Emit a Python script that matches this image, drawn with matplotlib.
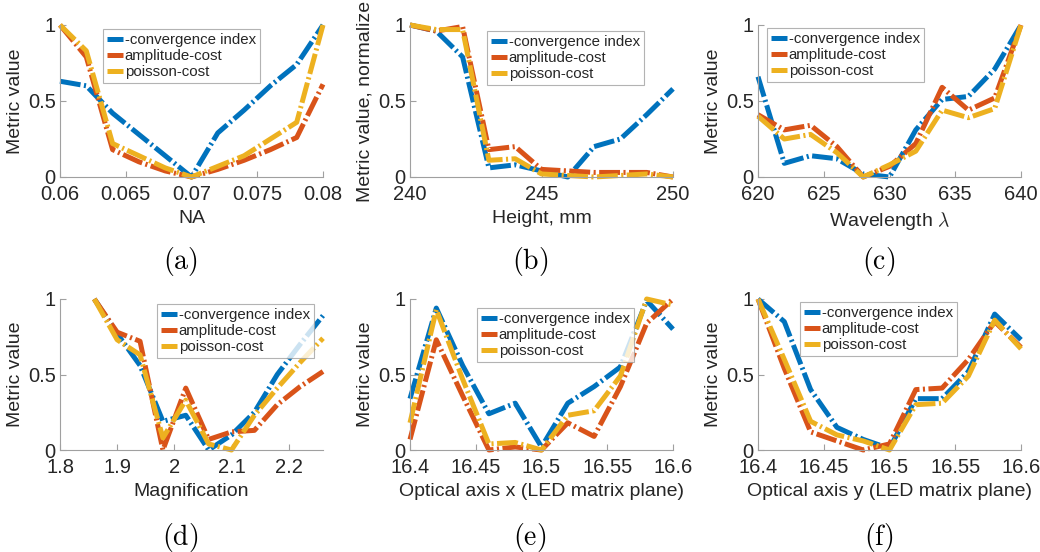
import matplotlib
matplotlib.use('Agg')
import matplotlib.pyplot as plt

plt.rcParams['font.family'] = ['Liberation Sans', 'DejaVu Sans']
plt.rcParams['mathtext.fontset'] = 'cm'
plt.rcParams['lines.scale_dashes'] = False

labels = ['-convergence index', 'amplitude-cost', 'poisson-cost']
colors = ['#0072BD', '#D95319', '#EDB120']

# (a) NA
na_x = [0.060, 0.062, 0.064, 0.066, 0.068, 0.070, 0.072, 0.074, 0.076, 0.078, 0.080]
na_conv = [0.63, 0.60, 0.42, 0.28, 0.14, 0.0, 0.29, 0.44, 0.60, 0.74, 1.0]
na_amp = [1.0, 0.79, 0.18, 0.10, 0.04, 0.0, 0.05, 0.11, 0.18, 0.26, 0.61]
na_poi = [1.0, 0.83, 0.22, 0.14, 0.06, 0.0, 0.07, 0.14, 0.25, 0.36, 1.0]

# (b) Height
h_x = [240, 241, 242, 243, 244, 245, 246, 247, 248, 249, 250]
h_conv = [1.0, 0.96, 0.79, 0.06, 0.08, 0.04, 0.0, 0.20, 0.25, 0.41, 0.58]
h_amp = [1.0, 0.96, 0.99, 0.18, 0.20, 0.05, 0.04, 0.03, 0.03, 0.03, 0.0]
h_poi = [1.0, 0.97, 0.97, 0.11, 0.12, 0.02, 0.01, 0.0, 0.01, 0.02, 0.0]

# (c) Wavelength
w_x = [620, 622, 624, 626, 628, 630, 632, 634, 636, 638, 640]
w_conv = [0.66, 0.09, 0.14, 0.12, 0.02, 0.0, 0.31, 0.51, 0.53, 0.71, 1.0]
w_amp = [0.41, 0.31, 0.34, 0.20, 0.0, 0.07, 0.22, 0.59, 0.44, 0.52, 1.0]
w_poi = [0.40, 0.25, 0.28, 0.16, 0.0, 0.08, 0.17, 0.44, 0.39, 0.45, 1.0]

# (d) Magnification
m_x = [1.86, 1.90, 1.94, 1.98, 2.02, 2.06, 2.10, 2.14, 2.18, 2.22, 2.26]
m_conv = [1.0, 0.77, 0.56, 0.19, 0.23, 0.0, 0.10, 0.25, 0.50, 0.70, 0.89]
m_amp = [1.0, 0.78, 0.72, 0.0, 0.41, 0.07, 0.12, 0.13, 0.30, 0.42, 0.52]
m_poi = [1.0, 0.73, 0.63, 0.08, 0.33, 0.04, 0.0, 0.23, 0.41, 0.58, 0.74]

# (e) Optical axis x
ox_x = [16.40, 16.42, 16.44, 16.46, 16.48, 16.50, 16.52, 16.54, 16.56, 16.58, 16.60]
ox_conv = [0.34, 0.94, 0.56, 0.24, 0.31, 0.02, 0.31, 0.42, 0.55, 0.99, 0.80]
ox_amp = [0.07, 0.73, 0.36, 0.0, 0.02, 0.0, 0.18, 0.09, 0.42, 0.84, 1.0]
ox_poi = [0.18, 0.93, 0.47, 0.04, 0.05, 0.0, 0.23, 0.26, 0.49, 1.0, 0.96]

# (f) Optical axis y
oy_x = [16.40, 16.42, 16.44, 16.46, 16.48, 16.50, 16.52, 16.54, 16.56, 16.58, 16.60]
oy_conv = [1.0, 0.85, 0.40, 0.15, 0.07, 0.01, 0.34, 0.34, 0.52, 0.90, 0.73]
oy_amp = [1.0, 0.54, 0.12, 0.06, 0.0, 0.04, 0.40, 0.41, 0.60, 0.85, 0.68]
oy_poi = [1.0, 0.60, 0.19, 0.10, 0.06, 0.0, 0.30, 0.31, 0.49, 0.86, 0.67]

panels = [
    dict(x=na_x, ys=[na_conv, na_amp, na_poi], xlim=(0.06, 0.08),
         xt=[0.06, 0.065, 0.07, 0.075, 0.08], xtl=['0.06', '0.065', '0.07', '0.075', '0.08'],
         xl='NA', yl='Metric value', cap='(a)', leg=(103, 29)),
    dict(x=h_x, ys=[h_conv, h_amp, h_poi], xlim=(240, 250),
         xt=[240, 245, 250], xtl=['240', '245', '250'],
         xl='Height, mm', yl='Metric value, normalize', cap='(b)', leg=(487, 31)),
    dict(x=w_x, ys=[w_conv, w_amp, w_poi], xlim=(620, 640),
         xt=[620, 625, 630, 635, 640], xtl=['620', '625', '630', '635', '640'],
         xl=r'Wavelength $\lambda$', yl='Metric value', cap='(c)', leg=(767, 28)),
    dict(x=m_x, ys=[m_conv, m_amp, m_poi], xlim=(1.8, 2.26),
         xt=[1.8, 1.9, 2.0, 2.1, 2.2], xtl=['1.8', '1.9', '2', '2.1', '2.2'],
         xl='Magnification', yl='Metric value', cap='(d)', leg=(157, 304)),
    dict(x=ox_x, ys=[ox_conv, ox_amp, ox_poi], xlim=(16.4, 16.6),
         xt=[16.4, 16.45, 16.5, 16.55, 16.6], xtl=['16.4', '16.45', '16.5', '16.55', '16.6'],
         xl='Optical axis x (LED matrix plane)', yl='Metric value', cap='(e)', leg=(477, 308)),
    dict(x=oy_x, ys=[oy_conv, oy_amp, oy_poi], xlim=(16.4, 16.6),
         xt=[16.4, 16.45, 16.5, 16.55, 16.6], xtl=['16.4', '16.45', '16.5', '16.55', '16.6'],
         xl='Optical axis y (LED matrix plane)', yl='Metric value', cap='(f)', leg=(800, 302)),
]

W, H = 1040, 552
fig = plt.figure(figsize=(W / 100, H / 100), dpi=100)

lefts = [60, 410, 758]
tops = [25, 299]
bottoms = [177, 450]
cap_x = [180, 530, 879]
cap_y = [262, 537]
aw = 263

for k, p in enumerate(panels):
    r, c = divmod(k, 3)
    ax = fig.add_axes([lefts[c] / W, 1 - bottoms[r] / H, aw / W, (bottoms[r] - tops[r]) / H])
    for y, col, lab in zip(p['ys'], colors, labels):
        ax.plot(p['x'], y, color=col, lw=3.6, dashes=(15, 2.5, 1.5, 2.5),
                label=lab, clip_on=False, solid_capstyle='butt')
    ax.set_xlim(*p['xlim'])
    ax.set_ylim(0, 1)
    ax.set_xticks(p['xt'])
    ax.set_xticklabels(p['xtl'])
    ax.set_yticks([0, 0.5, 1])
    ax.set_yticklabels(['0', '0.5', '1'])
    for s in ['top', 'right']:
        ax.spines[s].set_visible(False)
    for s in ['left', 'bottom']:
        ax.spines[s].set_color('#a0a0a0')
        ax.spines[s].set_linewidth(0.8)
    ax.tick_params(direction='in', length=4, width=0.8, color='#a0a0a0',
                   labelsize=14.5, labelcolor='#262626')
    ax.tick_params(axis='x', pad=6)
    ax.tick_params(axis='y', pad=3)
    ax.set_xlabel(p['xl'], fontsize=14, color='#262626', labelpad=4)
    ax.set_ylabel(p['yl'], fontsize=14, color='#262626', labelpad=3)
    lg = ax.legend(loc='upper left', bbox_to_anchor=(p['leg'][0] / W, 1 - p['leg'][1] / H),
                   bbox_transform=fig.transFigure, fontsize=10.8, frameon=True,
                   fancybox=False, handlelength=1.1, handletextpad=0.1,
                   borderpad=0.25, labelspacing=0.15, borderaxespad=0)
    lg.get_frame().set_edgecolor('#a0a0a0')
    lg.get_frame().set_linewidth(0.8)
    for t in lg.get_texts():
        t.set_color('#262626')
    fig.text(cap_x[c] / W, 1 - cap_y[r] / H, r'$\mathrm{' + p['cap'] + '}$',
             fontsize=20, ha='center', va='center')

fig.savefig('out.png', dpi=100)
